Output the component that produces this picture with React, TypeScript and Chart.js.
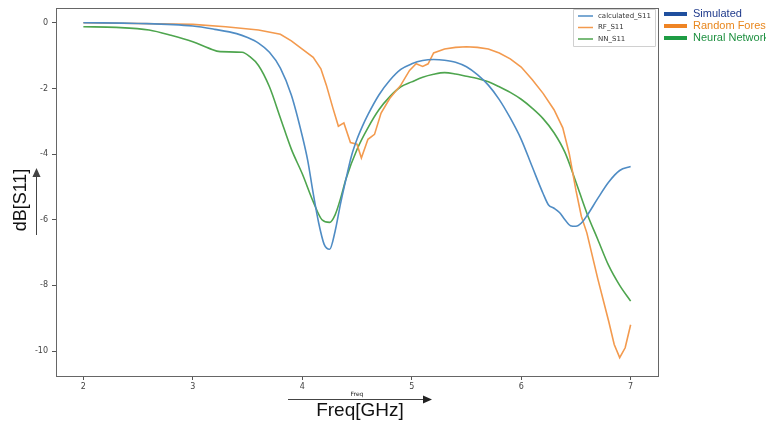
import React, { useEffect, useRef } from "react";
import { Chart, registerables } from "chart.js";
Chart.register(...registerables);

const xTickValues = [2, 3, 4, 5, 6, 7];
const yTickValues = [0, -2, -4, -6, -8, -10];

const calcFreq = [2.0, 2.5, 3.0, 3.2, 3.4, 3.5, 3.6, 3.7, 3.8, 3.9, 4.0, 4.05, 4.1, 4.15, 4.2, 4.25, 4.3, 4.35, 4.4, 4.45, 4.5, 4.55, 4.6, 4.7, 4.8, 4.9, 5.0, 5.1, 5.2, 5.3, 5.4, 5.5, 5.6, 5.7, 5.8, 5.9, 6.0, 6.1, 6.2, 6.25, 6.3, 6.35, 6.4, 6.45, 6.5, 6.55, 6.6, 6.7, 6.8, 6.9, 7.0];
const calcS11 = [0, -0.02, -0.1, -0.2, -0.33, -0.45, -0.62, -0.9, -1.38, -2.2, -3.45, -4.2, -5.2, -6.1, -6.75, -6.9, -6.35, -5.5, -4.75, -4.05, -3.55, -3.15, -2.8, -2.2, -1.75, -1.42, -1.25, -1.15, -1.12, -1.14, -1.2, -1.34, -1.58, -1.9, -2.34, -2.9, -3.55, -4.38, -5.2, -5.55, -5.65, -5.78, -6.0, -6.18, -6.2, -6.1, -5.88, -5.35, -4.85, -4.5, -4.38];

const rfFreq = [2.0, 2.5, 3.0, 3.3, 3.6, 3.8, 3.9, 4.0, 4.1, 4.17, 4.22, 4.28, 4.33, 4.38, 4.44, 4.5, 4.54, 4.6, 4.66, 4.72, 4.8, 4.9, 4.98, 5.04, 5.1, 5.15, 5.2, 5.3, 5.4, 5.5, 5.6, 5.7, 5.8, 5.9, 6.0, 6.1, 6.2, 6.3, 6.38, 6.44, 6.5, 6.55, 6.6, 6.7, 6.8, 6.85, 6.9, 6.95, 7.0];
const rfS11 = [0, -0.02, -0.05, -0.12, -0.22, -0.35, -0.55, -0.8, -1.05, -1.4, -1.9, -2.6, -3.15, -3.05, -3.65, -3.7, -4.12, -3.55, -3.4, -2.75, -2.3, -1.9, -1.45, -1.25, -1.33, -1.25, -0.92, -0.8, -0.75, -0.73, -0.75, -0.8, -0.92, -1.1, -1.35, -1.73, -2.15, -2.65, -3.2, -4.0, -5.1, -5.9, -6.4, -7.8, -9.1, -9.8, -10.2, -9.9, -9.2];

const nnFreq = [2.0, 2.3, 2.6, 2.8, 3.0, 3.15, 3.25, 3.45, 3.52, 3.6, 3.7, 3.8, 3.9, 4.0, 4.1, 4.18, 4.25, 4.3, 4.35, 4.4, 4.5, 4.6, 4.7, 4.8, 4.9, 5.0, 5.1, 5.2, 5.3, 5.4, 5.5, 5.6, 5.7, 5.8, 5.9, 6.0, 6.1, 6.2, 6.3, 6.4, 6.5, 6.6, 6.7, 6.8, 6.9, 7.0];
const nnS11 = [-0.12, -0.14, -0.22, -0.38, -0.58, -0.78, -0.88, -0.9, -1.03, -1.3, -1.95, -2.9, -3.85, -4.6, -5.45, -6.0, -6.08, -5.85, -5.35, -4.75, -3.86, -3.2, -2.65, -2.25, -1.95, -1.8, -1.66, -1.57, -1.52, -1.56, -1.63, -1.7, -1.8, -1.95, -2.12, -2.33, -2.6, -2.92, -3.35, -3.95, -4.85, -5.8, -6.6, -7.4, -8.0, -8.48];

const seriesLabels = ["calculated_S11", "RF_S11", "NN_S11"];
const outerLabels = ["Simulated", "Random Forest", "Neural Network"];
const xTitleSmall = "Freq";
const xTitle = "Freq[GHz]";
const yTitle = "dB[S11]";

const lineColors = ["#4f8cc4", "#f39a4e", "#4ea54e"];
const outerSwatch = ["#1f4f9e", "#ef8424", "#1e9c44"];
const outerText = ["#1f3a8c", "#e8861c", "#1e9040"];

const toPts = (xs: number[], ys: number[]) => xs.map((x, i) => ({ x, y: ys[i] }));

const arrow = (ctx: CanvasRenderingContext2D, x1: number, y1: number, x2: number, y2: number, head: number) => {
  const ang = Math.atan2(y2 - y1, x2 - x1);
  ctx.beginPath();
  ctx.moveTo(x1, y1);
  ctx.lineTo(x2 - Math.cos(ang) * head * 0.8, y2 - Math.sin(ang) * head * 0.8);
  ctx.stroke();
  ctx.beginPath();
  ctx.moveTo(x2, y2);
  ctx.lineTo(x2 - head * Math.cos(ang) + (head * 0.45) * Math.sin(ang), y2 - head * Math.sin(ang) - (head * 0.45) * Math.cos(ang));
  ctx.lineTo(x2 - head * Math.cos(ang) - (head * 0.45) * Math.sin(ang), y2 - head * Math.sin(ang) + (head * 0.45) * Math.cos(ang));
  ctx.closePath();
  ctx.fill();
};

const decorPlugin = {
  id: "decor",
  afterDraw(chart: any) {
    const { ctx, chartArea } = chart;
    const { left, top, right, bottom } = chartArea;
    ctx.save();
    // frame
    ctx.strokeStyle = "#666";
    ctx.lineWidth = 1;
    ctx.strokeRect(Math.round(left) + 0.5, Math.round(top) + 0.5, Math.round(right - left), Math.round(bottom - top));

    // inner legend
    const lx = 573, ly = 9, lw = 82, lh = 37;
    ctx.fillStyle = "rgba(255,255,255,0.9)";
    ctx.strokeStyle = "#d0d0d0";
    ctx.beginPath();
    ctx.rect(lx + 0.5, ly + 0.5, lw, lh);
    ctx.fill();
    ctx.stroke();
    ctx.font = "7px 'DejaVu Sans'";
    ctx.textBaseline = "middle";
    ctx.textAlign = "left";
    seriesLabels.forEach((lab, i) => {
      const yy = ly + 7 + i * 11.5;
      ctx.strokeStyle = lineColors[i];
      ctx.lineWidth = 1.5;
      ctx.beginPath();
      ctx.moveTo(lx + 5, yy);
      ctx.lineTo(lx + 20, yy);
      ctx.stroke();
      ctx.fillStyle = "#333";
      ctx.fillText(lab, lx + 25, yy);
    });

    // outer legend
    ctx.font = "11px 'Liberation Sans'";
    outerLabels.forEach((lab, i) => {
      const yy = 14 + i * 12;
      ctx.strokeStyle = outerSwatch[i];
      ctx.lineWidth = 4;
      ctx.beginPath();
      ctx.moveTo(664, yy);
      ctx.lineTo(687, yy);
      ctx.stroke();
      ctx.fillStyle = outerText[i];
      ctx.fillText(lab, 693, yy);
    });

    // x titles
    ctx.fillStyle = "#222";
    ctx.strokeStyle = "#444";
    ctx.lineWidth = 1;
    ctx.textAlign = "center";
    ctx.font = "6px 'DejaVu Sans'";
    ctx.fillText(xTitleSmall, 357, 394);
    arrow(ctx, 288, 399.5, 432, 399.5, 9);
    ctx.fillStyle = "#111";
    ctx.font = "19px 'Liberation Sans'";
    ctx.fillText(xTitle, 360, 411);

    // y title
    ctx.save();
    ctx.translate(21, 200);
    ctx.rotate(-Math.PI / 2);
    ctx.font = "18px 'Liberation Sans'";
    ctx.fillText(yTitle, 0, 0);
    ctx.restore();
    ctx.fillStyle = "#444";
    arrow(ctx, 36.5, 235, 36.5, 168, 9);
    ctx.restore();
  },
};

export default function App() {
  const ref = useRef<HTMLCanvasElement | null>(null);
  useEffect(() => {
    if (!ref.current) return;
    const tickFont = { family: "'DejaVu Sans'", size: 8 };
    const chart = new Chart(ref.current, {
      type: "line",
      data: {
        datasets: [
          { label: seriesLabels[0], data: toPts(calcFreq, calcS11), borderColor: lineColors[0], borderWidth: 1.6, pointRadius: 0, cubicInterpolationMode: "monotone" },
          { label: seriesLabels[1], data: toPts(rfFreq, rfS11), borderColor: lineColors[1], borderWidth: 1.6, pointRadius: 0, tension: 0 },
          { label: seriesLabels[2], data: toPts(nnFreq, nnS11), borderColor: lineColors[2], borderWidth: 1.6, pointRadius: 0, cubicInterpolationMode: "monotone" },
        ],
      },
      options: {
        responsive: false,
        animation: false,
        layout: { padding: { top: 8, right: 108, left: 0, bottom: 0 } },
        plugins: { legend: { display: false }, tooltip: { enabled: false } },
        scales: {
          x: {
            type: "linear",
            min: 1.75,
            max: 7.25,
            afterBuildTicks: (s: any) => { s.ticks = xTickValues.map((v) => ({ value: v })); },
            afterFit: (s: any) => { s.height = 47; s.paddingLeft = 0; s.paddingRight = 0; },
            grid: { drawOnChartArea: false, drawTicks: true, tickLength: 4, color: "#555" },
            border: { display: true, color: "#666" },
            ticks: { font: tickFont, color: "#444", padding: 2, maxRotation: 0 },
          },
          y: {
            type: "linear",
            min: -10.76,
            max: 0.45,
            afterBuildTicks: (s: any) => { s.ticks = yTickValues.map((v) => ({ value: v })); },
            afterFit: (s: any) => { s.width = 56; s.paddingTop = 0; s.paddingBottom = 0; },
            grid: { drawOnChartArea: false, drawTicks: true, tickLength: 4, color: "#555" },
            border: { display: true, color: "#666" },
            ticks: { font: tickFont, color: "#444", padding: 4 },
          },
        },
      },
      plugins: [decorPlugin],
    } as any);
    return () => chart.destroy();
  }, []);
  return (
    <div style={{ position: "absolute", left: 0, top: 0, width: 766, height: 423, background: "#fff", overflow: "hidden" }}>
      <canvas ref={ref} width={766} height={423} style={{ display: "block" }} />
    </div>
  );
}
